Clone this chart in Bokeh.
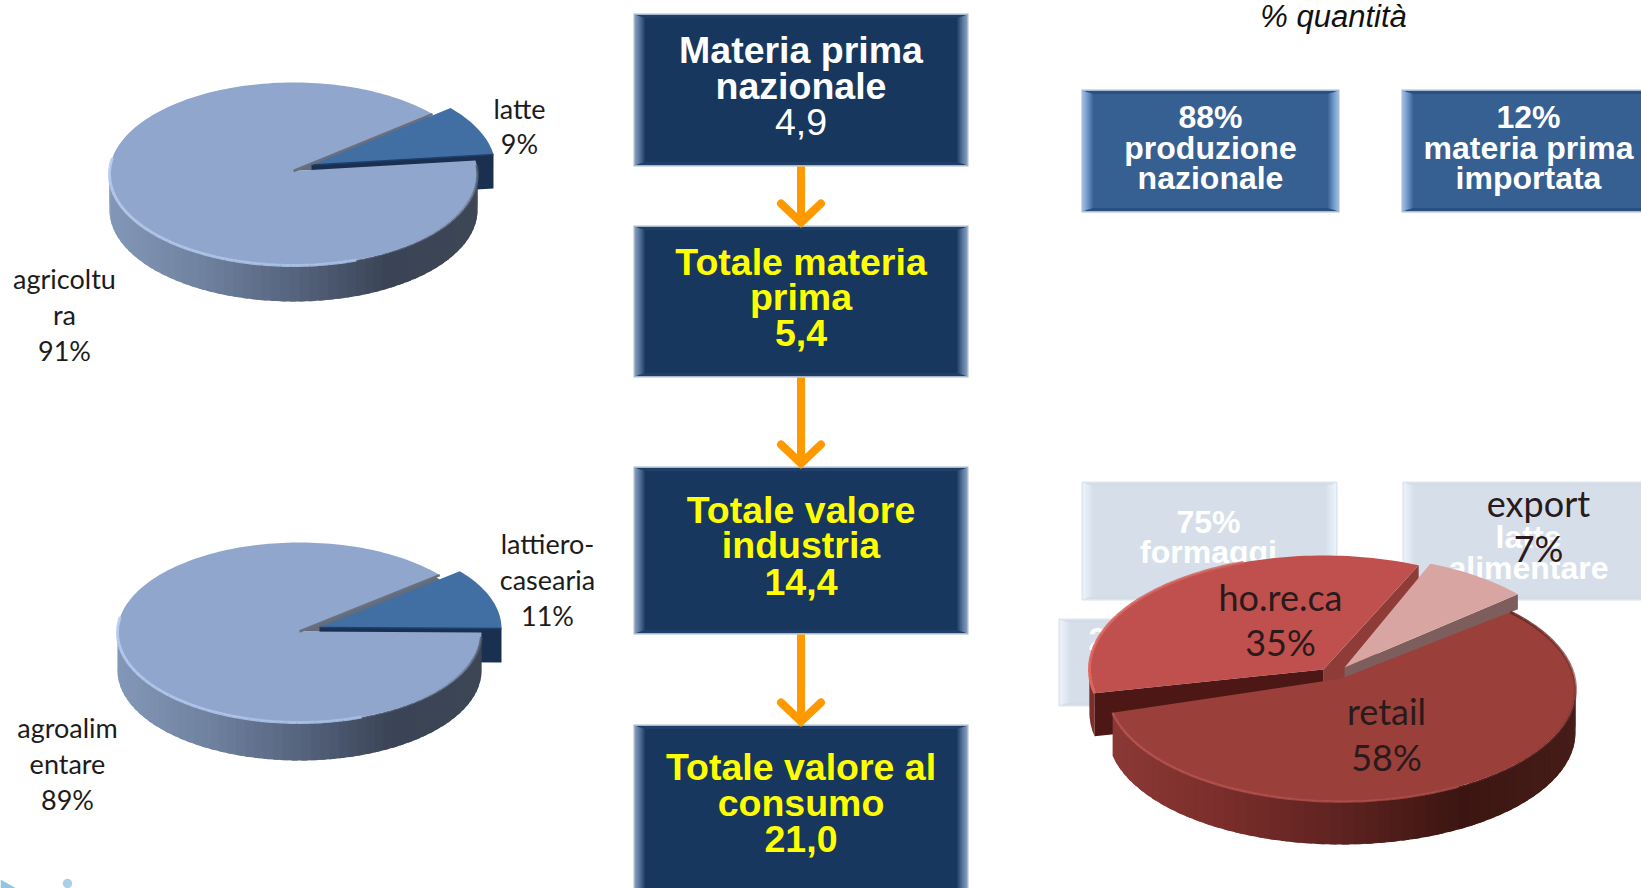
import math
from bokeh.plotting import figure
from bokeh.models import Range1d
from bokeh.core.properties import value
from bokeh.embed import file_html
from bokeh.resources import INLINE

# ---------- data ----------
pie1_labels = ["latte", "agricoltura"]
pie1_shares = [9, 91]
pie2_labels = ["lattiero-casearia", "agroalimentare"]
pie2_shares = [11, 89]
pie3_labels = ["retail", "export", "ho.re.ca"]
pie3_shares = [58, 7, 35]

flow_lines = [
    ["Materia prima", "nazionale", "4,9"],
    ["Totale materia", "prima", "5,4"],
    ["Totale valore", "industria", "14,4"],
    ["Totale valore al", "consumo", "21,0"],
]
top_boxes = [["88%", "produzione", "nazionale"], ["12%", "materia prima", "importata"]]
faded_a = ["75%", "formaggi"]
faded_b = ["latte", "alimentare"]
faded_c = ["25%"]
subtitle = "% quantità"

SANS = "Liberation Sans"
LAB = "Lato"

p = figure(width=1641, height=888, x_range=Range1d(0, 1641), y_range=Range1d(888, 0),
           x_axis_type=None, y_axis_type=None, toolbar_location=None,
           output_backend="svg", min_border=0, outline_line_color=None,
           background_fill_color="white", border_fill_color="white")
p.grid.visible = False


def hex2(c):
    return tuple(int(c[i:i + 2], 16) for i in (1, 3, 5))


def mix(a, b, t):
    a, b = hex2(a), hex2(b)
    return "#%02x%02x%02x" % tuple(round(a[i] + (b[i] - a[i]) * t) for i in range(3))


def multi(stops, t):
    t = max(0, min(1, t))
    n = len(stops) - 1
    i = min(int(t * n), n - 1)
    return mix(stops[i], stops[i + 1], t * n - i)


def txt(x, y, s, size, color="white", font=SANS, style="normal", alpha=1.0):
    p.text([x], [y], text=[s], text_font=value(font), text_font_size=f"{size}px",
           text_font_style=style, text_color=color, text_align="center",
           text_baseline="middle", text_alpha=alpha)


def box(x0, y0, x1, y1, fill, edge, border, band, bx=10, by=4):
    p.quad(left=[x0], right=[x1], top=[y0], bottom=[y1], fill_color=border, line_color=None)
    p.quad(left=[x0 + 1.5], right=[x1 - 1.5], top=[y0 + 1.5], bottom=[y1 - 1.5], fill_color=band, line_color=None)
    p.quad(left=[x0 + 1.5], right=[x1 - 1.5], top=[y0 + 1.5 + by], bottom=[y1 - 1.5 - by], fill_color=fill, line_color=None)
    for j in range(bx):
        t = j / bx
        f = j + 1.5
        g = 1.5 + by * (j / bx) * 1.0
        col = mix(edge, fill, t ** 1.1)
        p.quad(left=[x0 + f], right=[x0 + f + 1.05], top=[y0 + g], bottom=[y1 - g], fill_color=col, line_color=None)
        p.quad(left=[x1 - f - 1.05], right=[x1 - f], top=[y0 + g], bottom=[y1 - g], fill_color=col, line_color=None)


def pt(c, deg, k=1.0):
    cx, cy, rx, ry = c
    a = math.radians(deg)
    return cx + k * rx * math.cos(a), cy - k * ry * math.sin(a)


def arc(c, a0, a1, k=1.0, n=None):
    n = n or max(2, int(abs(a1 - a0) / 1.5))
    pts = [pt(c, a0 + (a1 - a0) * i / n, k) for i in range(n + 1)]
    return [q[0] for q in pts], [q[1] for q in pts]


def wedge(c, a0, a1, k=1.0, apex=None):
    xs, ys = arc(c, a0, a1, k)
    ax, ay = apex or (c[0], c[1])
    return [ax] + xs, [ay] + ys


def extruded_side(c, a0, a1, depth, stops, k=1.0, step=3.0):
    """Outer wall of a slice: the part facing the viewer, painted with overlap."""
    lo, hi = c[0] - c[2], c[0] + c[2]
    a = a0
    while a < a1:
        b = min(a + step, a1)
        b2 = min(b + step * 0.6, a1)
        s = math.sin(math.radians((a + b) / 2))
        if s < 0.05:
            xs, ys = arc(c, a, b2, k, n=3)
            xm, _ = pt(c, (a + b) / 2, k)
            col = multi(stops, (xm - lo) / (hi - lo))
            p.patch(xs + xs[::-1], ys + [y + depth for y in ys[::-1]],
                    fill_color=col, line_color=None)
        a = b


def wall(c, deg, depth, color, k=1.0, apex=None):
    x, y = pt(c, deg, k)
    ax, ay = apex or (c[0], c[1])
    p.patch([ax, x, x, ax], [ay, y, y + depth, ay + depth],
            fill_color=color, line_color=None)


def rim(c, a0, a1, color0, color1, width, alpha0, alpha1, step=3.0):
    a = a0
    while a < a1:
        b = min(a + step, a1)
        t = (a - a0) / (a1 - a0)
        xs, ys = arc(c, a, b, n=2)
        p.line(xs, ys, line_color=mix(color0, color1, t), line_width=width,
               line_alpha=alpha0 + (alpha1 - alpha0) * t)
        a = b


def shifted(c, dx, dy):
    return (c[0] + dx, c[1] + dy, c[2], c[3])


BLUE_SIDE = ["#8397b8", "#6f829f", "#56647e", "#3a4456", "#3d4655"]


def blue_pie(c, depth, start, share, off, slice_depth, apex_dy):
    span = share * 3.6
    e = shifted(c, *off)
    apex = (c[0], c[1] + apex_dy)
    eapex = (e[0], e[1] + apex_dy)
    a0, a1 = start + span, start + 360
    # notch behind the slice
    xs, ys = wedge(c, start, start + span, 0.97, apex)
    p.patch(xs, ys, fill_color="#626c7c", line_color=None)
    # exploded small slice
    xs, ys = wedge(e, start, start + span, 1.0, eapex)
    x0, y0 = pt(e, start, 1.0)
    p.patch([eapex[0], x0, x0, eapex[0]], [eapex[1], y0, y0 + slice_depth, eapex[1] + slice_depth],
            fill_color="#1a3050", line_color=None)
    p.patch(xs, ys, fill_color="#426fa3", line_color=None)
    p.line([eapex[0], x0], [eapex[1], y0], line_color="#1f3f6b", line_width=1.6)
    # main slice
    extruded_side(c, a0, a1, depth, BLUE_SIDE)
    xs, ys = wedge(c, a0, a1, 1.0, apex)
    p.patch(xs, ys, fill_color="#91a6cd", line_color=None)
    xe, ye = pt(c, a0)
    p.line([apex[0], xe], [apex[1], ye], line_color="#68707f", line_width=2.5)
    rim(c, 170, 290, "#b9ccf0", "#a9bfe6", 3, 0.9, 0.9)
    rim(c, 290, 360 + start - 3, "#a3b6da", "#4b5669", 2.5, 0.2, 0.9)


# ---------- faded boxes behind the red pie ----------
for x0, y0, x1, y1 in [(1081, 481, 1337, 600), (1402, 481, 1670, 600), (1058, 618, 1340, 706)]:
    box(x0, y0, x1, y1, "#d6dfe9", "#eaf1fa", "#dde5ee", "#d3dce7", bx=10, by=3)
txt(1208, 521.5, faded_a[0], 32, style="bold")
txt(1208, 551.5, faded_a[1], 32, style="bold")
txt(1528, 536.5, faded_b[0], 32, style="bold")
txt(1528, 567.5, faded_b[1], 32, style="bold")
txt(1120, 638.5, faded_c[0], 32, style="bold")

# ---------- flow column ----------
flow_boxes = [(13, 166), (225, 377), (466, 634), (724, 905)]
flow_y = [(49, 85, 121), (261, 296, 332), (509.5, 544.5, 581.5), (766, 802, 838)]
for (y0, y1) in flow_boxes:
    box(633, y0, 968, y1, "#17375e", "#7d98bb", "#a7b8cc", "#1f3f69", bx=10, by=3)
for i, lines in enumerate(flow_lines):
    col = "white" if i == 0 else "#ffff00"
    for j, s in enumerate(lines):
        st = "normal" if (i == 0 and j == 2) else "bold"
        txt(800.5, flow_y[i][j], s, 37.5, color=col, style=st)

for k in range(3):
    y0 = flow_boxes[k][1]
    tip = flow_boxes[k + 1][0] - 3
    col = "#ff9900"
    p.line([800.5, 800.5], [y0, tip], line_color=col, line_width=8)
    p.line([780.5, 800.5, 820.5], [tip - 19, tip, tip - 19], line_color=col, line_width=8,
           line_cap="round", line_join="miter")

# ---------- top right ----------
txt(1333, 16, subtitle, 31, color="#111111", style="italic")
box(1081, 89, 1339, 212, "#376092", "#90b6e4", "#a7bcd4", "#2b4f80", bx=10, by=3)
box(1401, 89, 1680, 212, "#376092", "#90b6e4", "#a7bcd4", "#2b4f80", bx=10, by=3)
for cx, lines in zip((1210, 1528), top_boxes):
    for y, s in zip((116, 147, 177), lines):
        txt(cx, y, s, 32, style="bold")

# ---------- blue pies ----------
blue_pie((293, 173.5, 184, 91.5), 36, 8.5, pie1_shares[0], (18, -6), 34, -3)
blue_pie((299, 632, 182, 90), 38, 0.0, pie2_shares[0], (20, -4), 34, -1)

for x, y, s in [(519, 107.5, "latte"), (519, 143, "9%"), (64, 277.5, "agricoltu"), (64, 313.5, "ra"),
                (64, 349.5, "91%"), (547, 542.5, "lattiero-"), (547, 578.5, "casearia"), (547, 614.5, "11%"),
                (67, 727, "agroalim"), (67, 763, "entare"), (67, 799, "89%")]:
    txt(x, y, s, 27, color="#1c1c1c", font=LAB)

# ---------- red pie ----------
C = (1341, 689, 234, 112)
C_APEX = (1341, 678)
D = 43
start = 40.8
a_ret = pie3_shares[0] * 3.6
a_exp = pie3_shares[1] * 3.6
a_hor = pie3_shares[2] * 3.6
# order around the circle, counter-clockwise from `start`: export, ho.re.ca, retail
e0, e1 = start, start + a_exp
h0, h1 = e1, e1 + a_hor
r0, r1 = h1, h1 + a_ret

H = (1323, 669, 234, 114)
E = (1344, 667, 229, 112)
# ho.re.ca
extruded_side(H, h0, h1, D, ["#7d2f2c", "#6c2825"])
wall(H, h0, D, "#8f3b38")
wall(H, h1, D, "#4c1714")
xs, ys = wedge(H, h0, h1)
p.patch(xs, ys, fill_color="#c0504d", line_color=None)
rim(H, 110, h1, "#cf5f5b", "#e06a62", 3, 0.8, 1.0)
# export (perspective widens the far slice by two degrees)
wall(E, e0, 15, "#7d5e5c")
xs, ys = wedge(E, e0, e1 + 2)
p.patch(xs, ys, fill_color="#d9a5a3", line_color=None)
# retail (far edge drawn three degrees further, for the same perspective)
extruded_side(C, r0, r1 + 0.01, D, ["#8c3936", "#7a2e2b", "#5e2320", "#3c1512", "#451c18"])
xs, ys = wedge(C, r0, r1 + 3, 1.0, C_APEX)
p.patch(xs, ys, fill_color="#9b3f3b", line_color=None)
rim(C, r0, 300, "#b65552", "#ab4a46", 2.5, 0.9, 0.8)
rim(C, 300, 360 + start + 3, "#a04541", "#5e2320", 3, 0.2, 0.9)

for x, y, s in [(1280, 596, "ho.re.ca"), (1280, 641, "35%"), (1386, 710, "retail"), (1386, 756, "58%"),
                (1538, 502, "export"), (1538, 547, "7%")]:
    txt(x, y, s, 36, color="#2a1a1c", font=LAB)

# ---------- bottom-left decoration ----------
p.scatter([67], [883], size=9.5, fill_color="#a9d0e8", line_color=None)
p.patch([0, 16, 8, 0], [879, 888, 900, 900], fill_color="#93c4e2", line_color=None)

open("out.html", "w").write(file_html(p, INLINE))
